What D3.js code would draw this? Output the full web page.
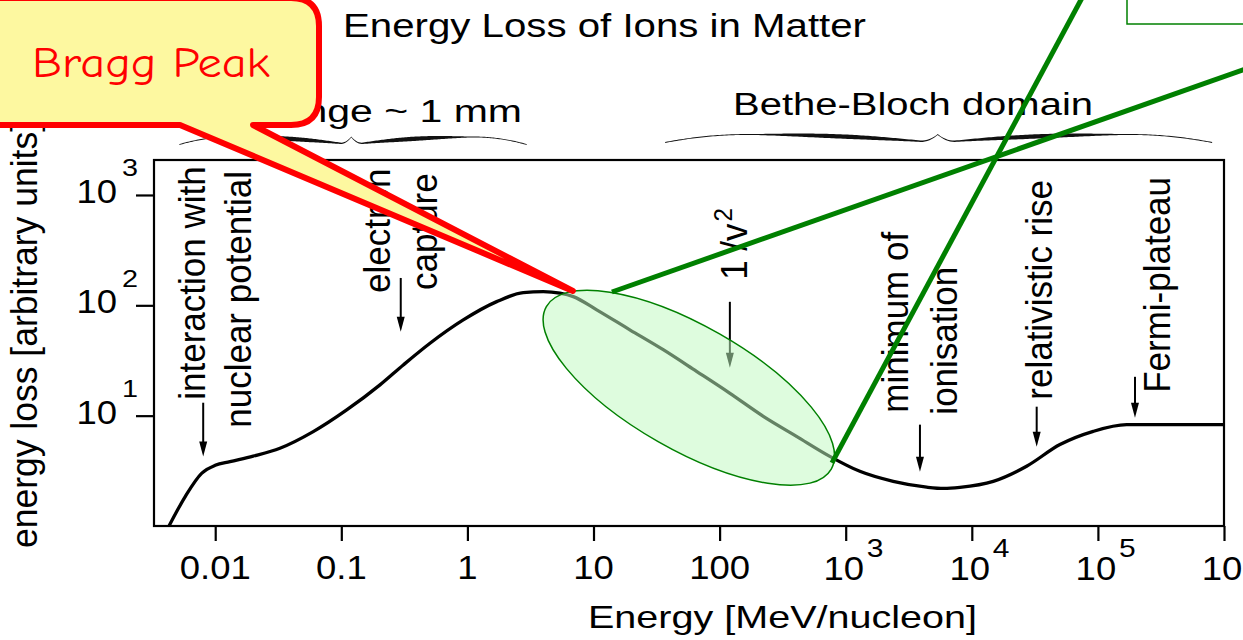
<!DOCTYPE html>
<html><head><meta charset="utf-8">
<script src="https://cdn.jsdelivr.net/npm/d3@7"></script>
<style>body{margin:0;background:#fff;} svg{display:block;}</style>
</head><body>
<svg id="chart" width="1243" height="640"></svg>
<script>
// ---------------- data ----------------
const energy = [0.0043, 0.0058, 0.0078, 0.010, 0.0131, 0.020, 0.0326, 0.0599, 0.1103, 0.2026, 0.310, 0.505, 0.927, 1.707, 2.774, 4.0, 5.42, 6.91, 10.6, 19.4, 35.7, 65.6, 120, 222, 407, 748, 1294, 2380, 4385, 6000, 8050, 14800, 27200, 50000, 91900, 169000, 310000, 1000000];
const loss   = [1.0, 1.86, 3.0, 3.55, 3.83, 4.3, 5.06, 7.16, 11.26, 19.0, 28.8, 45.3, 73.7, 108, 130.4, 133.1, 128.8, 120, 91, 60, 39.6, 25.2, 16, 9.86, 6.5, 4.28, 3.13, 2.54, 2.25, 2.19, 2.24, 2.54, 3.48, 5.47, 7.21, 8.29, 8.29, 8.29];

const xTickValues = [0.01, 0.1, 1, 10, 100, 1e3, 1e4, 1e5, 1e6];
const xTickBase   = ["0.01", "0.1", "1", "10", "100", "10", "10", "10", "10"];
const xTickExp    = ["", "", "", "", "", "3", "4", "5", "6"];
const yTickValues = [10, 100, 1000];
const yTickBase   = ["10", "10", "10"];
const yTickExp    = ["1", "2", "3"];

const annotationLines = [["interaction with", "nuclear potential"], ["electron", "capture"], ["1 /v"], ["minimum of", "ionisation"], ["relativistic rise"], ["Fermi-plateau"]];
const annotationSup   = ["", "", "2", "", "", ""];
const arrowEnergy  = [0.00803, 0.296, 120.6, 3880, 32700, 196800];
const arrowLossTop = [13.1, 177, 107.6, 8.29, 12.06, 22.5];
const arrowLossTip = [4.26, 57.5, 27.2, 3.11, 5.24, 9.59];

const braceLabels = ["Range ~ 1 mm", "Bethe-Bloch domain"];
const braceFrom = [0.0052, 37];
const braceMid  = [0.12, 5370];
const braceTo   = [2.95, 805000];

const braggTip = [6.86, 135];
const ellipseCenter = [57, 17.9];
const greenLine1 = [[14, 132], [1.93e6, 15440]];
const greenLine2 = [[778, 3.73], [81000, 72360]];

// ---------------- layout ----------------
const W = 1243, H = 640;
const plot = {left: 154, right: 1224, top: 160, bottom: 526};
const FONT = "'Liberation Sans', Arial, Helvetica, sans-serif";
const svg = d3.select("#chart");
svg.append("rect").attr("width", W).attr("height", H).attr("fill", "#fff");

const x = d3.scaleLog().domain([0.00327, 1e6]).range([plot.left, plot.right]);
const y = d3.scaleLog().domain([1, 2075]).range([plot.bottom, plot.top]);

function text(g, txt, px, py, fs, opts = {}) {
  const t = g.append("text").attr("x", px).attr("y", py)
    .attr("font-family", opts.family || FONT).attr("font-size", fs)
    .attr("fill", opts.fill || "#000").text(txt);
  if (opts.len) t.attr("textLength", opts.len).attr("lengthAdjust", "spacingAndGlyphs");
  if (opts.anchor) t.attr("text-anchor", opts.anchor);
  return t;
}
function stretched(px, py, sx, rot) {
  return svg.append("g").attr("transform", `translate(${px},${py}) scale(${sx},1)` + (rot ? ` rotate(${rot})` : ""));
}

// ---------------- titles ----------------
text(svg, "Energy Loss of Ions in Matter", 343, 37, 34, {len: 523});
text(svg, "Energy [MeV/nucleon]", 588, 628, 32, {len: 389});
{
  const g = stretched(37, 548, 1.04, -90);
  text(g, "energy loss [arbitrary units]", 0, 0, 35.5);
}

// braces + their labels
const braceY = [[137, 144.5], [134.5, 142.5]];
const braceText = [[252, 122, 270], [733, 115, 360]];
braceLabels.forEach((lab, i) => {
  const x0 = x(braceFrom[i]), xm = x(braceMid[i]), x1 = x(braceTo[i]);
  const [yTop, yBot] = braceY[i];
  const g = u => {
    if (u < 0.3) return Math.pow(1 - u / 0.3, 2);
    if (u < 0.94) return 0.85 * Math.pow((u - 0.3) / 0.64, 2);
    const s = (u - 0.94) / 0.06; return 0.85 * (1 - s * s);
  };
  const th = u => 0.9 + (u > 0.3 && u < 1 ? 3.4 * Math.pow(Math.sin(Math.PI * (u - 0.3) / 0.7), 1.5) : 0);
  const up = [], lo = [];
  const N = 240;
  const xs = d3.range(N + 1).map(k => x0 + (x1 - x0) * k / N).concat([xm]).sort((a, b) => a - b);
  xs.forEach(xx => {
    const u = xx <= xm ? (xx - x0) / (xm - x0) : (x1 - xx) / (x1 - xm);
    const yy = yTop + (yBot - yTop) * g(u);
    const t = th(u);
    up.push([xx, yy - t / 2]); lo.push([xx, yy + t / 2]);
  });
  svg.append("path").attr("d", d3.line()(up.concat(lo.reverse())) + "Z").attr("fill", "#111");
  text(svg, lab, braceText[i][0], braceText[i][1], 31, {len: braceText[i][2]});
});

// ---------------- axes ----------------
const gx = svg.append("g").attr("transform", `translate(0,${plot.bottom})`)
  .call(d3.axisBottom(x).tickValues(xTickValues).tickSize(15).tickFormat(""));
gx.select(".domain").remove();
gx.selectAll(".tick line").attr("stroke", "#000").attr("stroke-width", 2.2);

const gy = svg.append("g").attr("transform", `translate(${plot.left},0)`)
  .call(d3.axisLeft(y).tickValues(yTickValues).tickSize(18).tickFormat(""));
gy.select(".domain").remove();
gy.selectAll(".tick line").attr("stroke", "#000").attr("stroke-width", 2.2);

xTickValues.forEach((v, i) => {
  const px = x(v);
  if (!xTickExp[i]) {
    const g = stretched(px, 579, 1.09);
    text(g, xTickBase[i], 0, 0, 33.5, {anchor: "middle"});
  } else {
    const g = stretched(px - 2, 580, 1.09);
    text(g, xTickBase[i], 0, 0, 33.5, {anchor: "middle"});
    const g2 = stretched(px + 21, 557, 1.2);
    text(g2, xTickExp[i], 0, 0, 25);
  }
});
yTickValues.forEach((v, i) => {
  const py = y(v);
  const g = stretched(117, py + 8, 1.09);
  text(g, yTickBase[i], 0, 0, 33.5, {anchor: "end"});
  const g2 = stretched(122, py - 18.5, 1.2);
  text(g2, yTickExp[i], 0, 0, 24);
});

// frame
svg.append("rect").attr("x", plot.left).attr("y", plot.top)
  .attr("width", plot.right - plot.left).attr("height", plot.bottom - plot.top)
  .attr("fill", "none").attr("stroke", "#000").attr("stroke-width", 2.2);

// ---------------- curve ----------------
const pts = energy.map((e, i) => [e, loss[i]]);
svg.append("path").datum(pts)
  .attr("d", d3.line().x(d => x(d[0])).y(d => y(d[1])).curve(d3.curveMonotoneX))
  .attr("fill", "none").attr("stroke", "#000").attr("stroke-width", 3.3).attr("stroke-linejoin", "round");

// ---------------- annotations ----------------
const labelOffsets = [
  [[1.5, -3], [47.5, 25]],
  [[-11, 15], [36, 12]],
  [[16.7, -22]],
  [[-12, -12], [37, -10]],
  [[15.3, -7]],
  [[35, 16]]
];
annotationLines.forEach((lines, i) => {
  const ax = x(arrowEnergy[i]), aTop = y(arrowLossTop[i]), aTip = y(arrowLossTip[i]);
  svg.append("line").attr("x1", ax).attr("x2", ax).attr("y1", aTop).attr("y2", aTip - 10)
    .attr("stroke", "#000").attr("stroke-width", 2);
  svg.append("path").attr("d", `M${ax - 4},${aTip - 15}L${ax + 4},${aTip - 15}L${ax},${aTip}Z`).attr("fill", "#000");
  lines.forEach((ln, j) => {
    const [dx, dy] = labelOffsets[i][j];
    const g = stretched(ax + dx, aTop + dy, 1.06, -90);
    const t = text(g, ln, 0, 0, 35);
    if (annotationSup[i] && j === lines.length - 1) {
      t.append("tspan").attr("dy", -14).attr("dx", 2).attr("font-size", 24).text(annotationSup[i]);
    }
  });
});

// ---------------- overlay: ellipse + green lines ----------------
const ecx = x(ellipseCenter[0]), ecy = y(ellipseCenter[1]);
svg.append("ellipse").attr("cx", ecx).attr("cy", ecy).attr("rx", 164).attr("ry", 62)
  .attr("transform", `rotate(29.7,${ecx},${ecy})`)
  .attr("fill", "rgba(192,250,192,0.52)").attr("stroke", "#008000").attr("stroke-width", 1.5);

[greenLine1, greenLine2].forEach(l => {
  svg.append("line").attr("x1", x(l[0][0])).attr("y1", y(l[0][1]))
    .attr("x2", x(l[1][0])).attr("y2", y(l[1][1]))
    .attr("stroke", "#008000").attr("stroke-width", 5);
});
svg.append("rect").attr("x", 1127).attr("y", -10).attr("width", 200).attr("height", 34)
  .attr("fill", "#fff").attr("stroke", "#008000").attr("stroke-width", 1.5);

// ---------------- callout ----------------
{
  const tx = x(braggTip[0]), ty = y(braggTip[1]);
  const L = -30, T = -2, R = 319, B = 125, r = 28;
  const d = `M${L},${T} L${R - r},${T} Q${R},${T} ${R},${T + r} L${R},${B - r} Q${R},${B} ${R - r},${B}
    L253,${B} L${tx},${ty} L180,${B} L${L},${B} Z`;
  svg.append("path").attr("d", d).attr("fill", "#fdf8a0").attr("stroke", "#ff0000")
    .attr("stroke-width", 6).attr("stroke-linejoin", "round");
  text(svg, "Bragg Peak", 32, 77, 42, {fill: "#ff0000", len: 238, family: "'Comic Sans MS','Comic Neue',Lato,sans-serif"});
}
</script>
</body></html>
